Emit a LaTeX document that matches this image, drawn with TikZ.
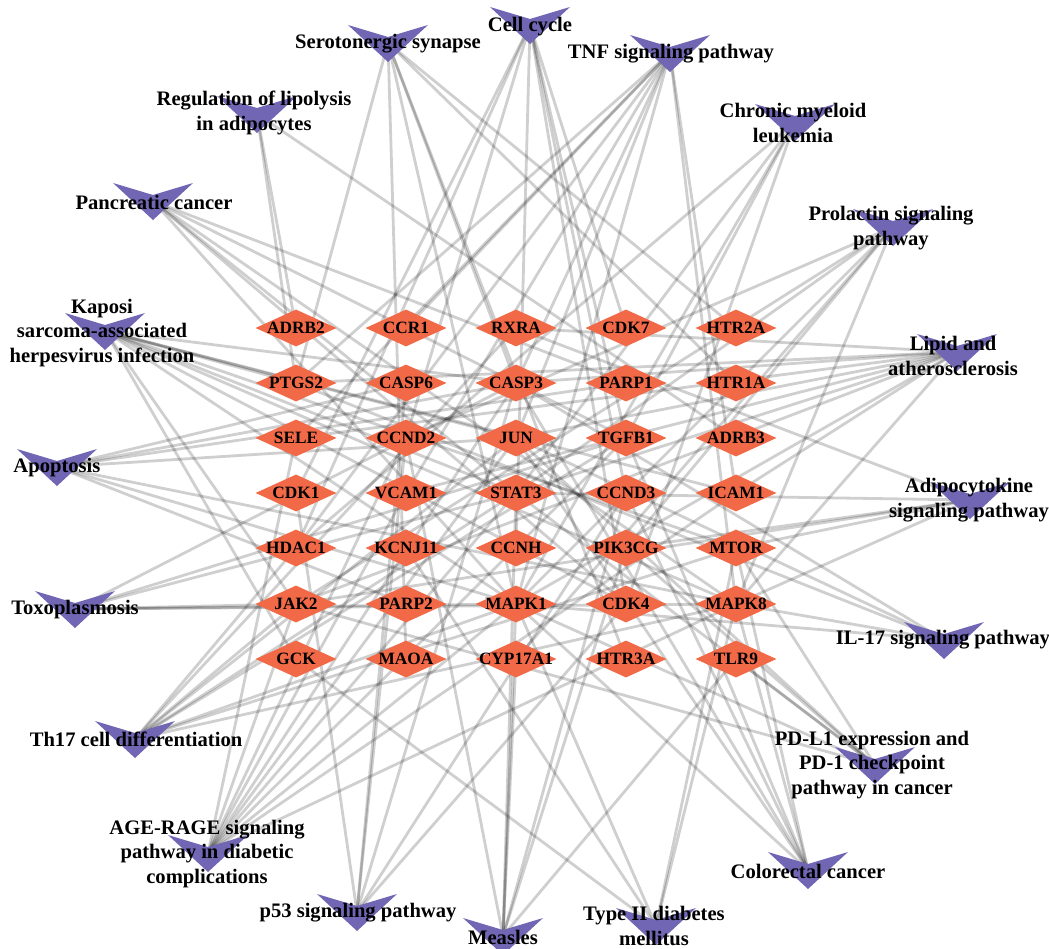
\documentclass[tikz,border=0pt]{standalone}
\usepackage{fontspec}
\setmainfont{Liberation Serif}
\usetikzlibrary{shapes.geometric}
\definecolor{geneC}{HTML}{F26948}
\definecolor{pathC}{HTML}{7066B4}
\pgfdeclarelayer{bg}
\pgfsetlayers{bg,main}
\tikzset{
  gene/.style={diamond, fill=geneC, minimum width=81pt, minimum height=37pt, inner sep=0pt, shape aspect=2.19},
  genelabel/.style={font=\fontsize{17.3}{19}\selectfont\bfseries, inner sep=0pt},
  plabel/.style={font=\fontsize{20.6}{24.4}\selectfont\bfseries, align=center, inner sep=0pt},
  edge/.style={draw=black, draw opacity=0.19, line width=2.8pt},
  vmark/.style={fill=pathC},
}
\begin{document}
\begin{tikzpicture}[x=1pt,y=-1pt]
\useasboundingbox (0,0) rectangle (1049,949);
% gene nodes
\foreach \n/\x/\y in {
  ADRB2/296/328, CCR1/406/328, RXRA/516/328, CDK7/626/328, HTR2A/736/328,
  PTGS2/296/383, CASP6/406/383, CASP3/516/383, PARP1/626/383, HTR1A/736/383,
  SELE/296/438, CCND2/406/438, JUN/516/438, TGFB1/626/438, ADRB3/736/438,
  CDK1/296/493, VCAM1/406/493, STAT3/516/493, CCND3/626/493, ICAM1/736/493,
  HDAC1/296/548, KCNJ11/406/548, CCNH/516/548, PIK3CG/626/548, MTOR/736/548,
  JAK2/296/604, PARP2/406/604, MAPK1/516/604, CDK4/626/604, MAPK8/736/604,
  GCK/296/659, MAOA/406/659, CYP17A1/516/659, HTR3A/626/659, TLR9/736/659}
  \node[gene, label={[genelabel]center:\n}] (\n) at (\x,\y) {};
% pathway anchor points
\coordinate (cc) at (530,25);
\coordinate (sero) at (388,43);
\coordinate (tnf) at (670,53);
\coordinate (lipo) at (257,114);
\coordinate (cml) at (795,122);
\coordinate (panc) at (153,201);
\coordinate (prl) at (893,227);
\coordinate (ksh) at (105,331);
\coordinate (lipid) at (957,352);
\coordinate (apop) at (57,467);
\coordinate (adipo) at (970,500);
\coordinate (toxo) at (75,609);
\coordinate (il17) at (944,640);
\coordinate (th17) at (135,739);
\coordinate (pdl) at (875,765);
\coordinate (age) at (208,853);
\coordinate (crc) at (808,870);
\coordinate (p53) at (357,912);
\coordinate (mea) at (503,936);
\coordinate (t2d) at (656,926);
% edges
\begin{pgfonlayer}{bg}
\foreach \p/\g in {
  cc/CDK7, cc/CCNH, cc/CDK1, cc/CDK4, cc/CCND2, cc/CCND3, cc/HDAC1, cc/TGFB1,
  sero/HTR2A, sero/HTR1A, sero/HTR3A, sero/MAOA, sero/PTGS2, sero/MAPK1, sero/CASP3,
  tnf/CASP3, tnf/JUN, tnf/MAPK1, tnf/MAPK8, tnf/PTGS2, tnf/SELE, tnf/VCAM1, tnf/ICAM1, tnf/CCR1, tnf/HDAC1,
  lipo/ADRB2, lipo/PTGS2, lipo/ADRB3,
  panc/STAT3, panc/TGFB1, panc/CDK4, panc/MAPK1, panc/MAPK8, panc/PARP1,
  cml/HDAC1, cml/MAPK1, cml/STAT3, cml/TGFB1, cml/CDK4,
  prl/JAK2, prl/STAT3, prl/MAPK1, prl/MAPK8, prl/CCND2, prl/CYP17A1, prl/PIK3CG,
  ksh/CASP3, ksh/JUN, ksh/STAT3, ksh/JAK2, ksh/MAPK1, ksh/MAPK8, ksh/ICAM1, ksh/PTGS2, ksh/MTOR, ksh/CDK4, ksh/GCK,
  lipid/CASP3, lipid/JUN, lipid/MAPK1, lipid/MAPK8, lipid/ICAM1, lipid/VCAM1, lipid/SELE, lipid/STAT3, lipid/JAK2, lipid/RXRA, lipid/PTGS2,
  apop/CASP3, apop/CASP6, apop/PARP1, apop/PARP2, apop/JUN, apop/MAPK1, apop/MAPK8,
  adipo/JAK2, adipo/STAT3, adipo/MTOR, adipo/MAPK8, adipo/RXRA, adipo/PIK3CG,
  toxo/CASP3, toxo/TGFB1, toxo/STAT3, toxo/JAK2, toxo/MAPK1, toxo/MAPK8,
  il17/CASP3, il17/JUN, il17/PTGS2, il17/MAPK8, il17/MAPK1,
  th17/JAK2, th17/STAT3, th17/JUN, th17/MAPK1, th17/MAPK8, th17/TGFB1, th17/MTOR, th17/RXRA, th17/HDAC1,
  pdl/JUN, pdl/STAT3, pdl/JAK2, pdl/MAPK1, pdl/MTOR, pdl/TLR9, pdl/PIK3CG,
  age/CASP3, age/JUN, age/STAT3, age/JAK2, age/MAPK1, age/MAPK8, age/VCAM1, age/ICAM1, age/SELE, age/TGFB1, age/CCND2,
  crc/CASP3, crc/JUN, crc/MAPK1, crc/MAPK8, crc/MTOR, crc/TGFB1, crc/CCND3,
  p53/CDK1, p53/CDK4, p53/CCND2, p53/CCND3, p53/CASP3, p53/CASP6,
  mea/STAT3, mea/CCND3, mea/PIK3CG, mea/TLR9, mea/CCND2, mea/MAPK1, mea/CYP17A1,
  t2d/MAPK1, t2d/MAPK8, t2d/MTOR, t2d/GCK, t2d/KCNJ11}
  \draw[edge] (\p) -- (\g.center);
\end{pgfonlayer}
% pathway markers
\foreach \p in {cc,sero,tnf,lipo,cml,panc,prl,ksh,lipid,apop,adipo,toxo,il17,th17,pdl,age,crc,p53,mea,t2d}
  \fill[vmark] (\p) ++(-40,-18) -- ++(40,12) -- ++(40,-12) -- ++(-40,37) -- cycle;
% pathway labels
\node[plabel] (ccT) at (530,27) {Cell cycle};
\node[plabel] (seroT) at (388,44) {Serotonergic synapse};
\node[plabel] (tnfT) at (671,54) {TNF signaling pathway};
\node[plabel] (lipoT) at (254,113) {Regulation of lipolysis\\in adipocytes};
\node[plabel] (cmlT) at (793,123) {Chronic myeloid\\leukemia};
\node[plabel] (pancT) at (154,202) {Pancreatic cancer};
\node[plabel] (prlT) at (891,228) {Prolactin signaling\\pathway};
\node[plabel] (kshT) at (102,333) {Kaposi\\sarcoma-associated\\herpesvirus infection};
\node[plabel] (lipidT) at (953,356) {Lipid and\\atherosclerosis};
\node[plabel] (apopT) at (57,468) {Apoptosis};
\node[plabel] (adipoT) at (969,500) {Adipocytokine\\signaling pathway};
\node[plabel] (toxoT) at (75,610) {Toxoplasmosis};
\node[plabel] (il17T) at (943,640) {IL-17 signaling pathway};
\node[plabel] (th17T) at (136,739) {Th17 cell differentiation};
\node[plabel] (pdlT) at (872,765) {PD-L1 expression and\\PD-1 checkpoint\\pathway in cancer};
\node[plabel] (ageT) at (207,854) {AGE-RAGE signaling\\pathway in diabetic\\complications};
\node[plabel] (crcT) at (808,871) {Colorectal cancer};
\node[plabel] (p53T) at (358,913) {p53 signaling pathway};
\node[plabel] (meaT) at (503,937) {Measles};
\node[plabel] (t2dT) at (654,926) {Type II diabetes\\mellitus};
\end{tikzpicture}
\end{document}
